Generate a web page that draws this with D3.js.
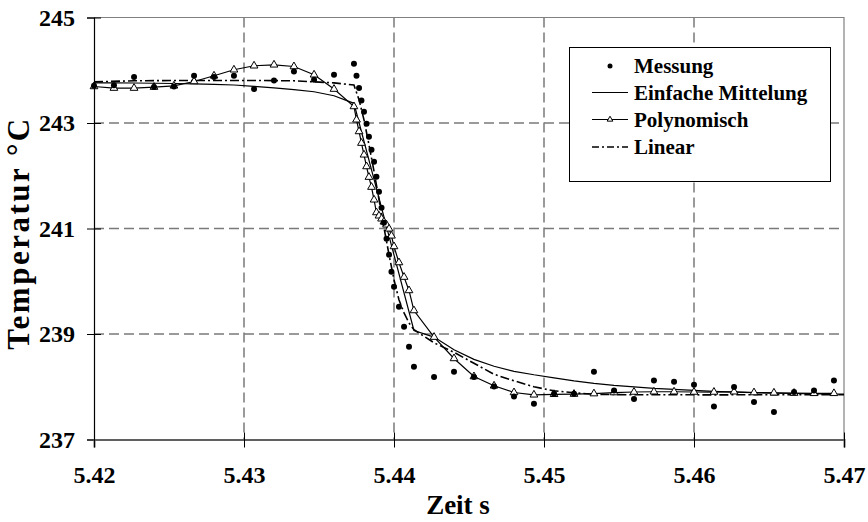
<!DOCTYPE html>
<html><head><meta charset="utf-8">
<script src="https://cdn.jsdelivr.net/npm/d3@7"></script>
<style>body{margin:0;background:#fff}</style>
</head><body>
<svg id="c" width="868" height="522"></svg>
<script>
// ---- data ----
const xTicks = [5.42, 5.43, 5.44, 5.45, 5.46, 5.47];
const yTicks = [237, 239, 241, 243, 245];
const seriesNames = ["Messung", "Einfache Mittelung", "Polynomisch", "Linear"];

const messZeit = [5.42000,5.42133,5.42267,5.42400,5.42533,5.42667,5.42800,5.42933,5.43067,5.43200,5.43333,5.43467,5.43600,
  5.43733,5.43750,5.43767,5.43783,5.43800,5.43817,5.43833,5.43850,5.43867,5.43883,5.43900,5.43917,5.43933,5.43950,5.43967,5.43983,5.44000,
  5.44033,5.44067,5.44100,5.44133,
  5.44267,5.44400,5.44533,5.44667,5.44800,5.44933,5.45067,5.45200,5.45333,5.45467,5.45600,5.45733,5.45867,5.46000,5.46133,5.46267,5.46400,5.46533,5.46667,5.46800,5.46933];
const messTemp = [243.705,243.718,243.870,243.681,243.692,243.895,243.870,243.895,243.643,243.806,243.976,243.819,243.914,
  244.122,243.894,243.662,243.427,243.212,242.985,242.738,242.492,242.264,241.980,241.696,241.392,241.108,240.805,240.501,240.179,239.895,
  239.515,239.136,238.757,238.378,
  238.183,238.283,238.183,238.005,237.815,237.677,237.866,237.866,238.283,237.929,237.766,238.118,238.094,238.037,237.626,237.993,237.709,237.519,237.899,237.929,238.118];

const polyZeit = messZeit;
const polyTemp = [243.692,243.662,243.662,243.681,243.705,243.787,243.895,244.009,244.085,244.103,244.071,243.914,243.643,
  243.313,243.061,242.839,242.619,242.397,242.175,241.974,241.785,241.544,241.303,241.241,241.184,241.127,241.070,240.994,240.861,240.659,
  240.355,240.079,239.825,239.445,
  238.941,238.536,238.194,238.018,237.891,237.847,237.857,237.861,237.870,237.890,237.900,237.905,237.905,237.900,237.900,237.905,237.890,237.885,237.880,237.875,237.875];

const mittZeit = [5.42000,5.42133,5.42267,5.42400,5.42533,5.42667,5.42800,5.42933,5.43067,5.43200,5.43333,5.43467,5.43600,5.43733,
  5.44133,5.44267,5.44400,5.44533,5.44667,5.44800,5.44933,5.45067,5.45200,5.45333,5.45467,5.45600,5.45733,5.45867,5.46000,5.46133,5.46267,5.46400,5.46533,5.46667,5.46800,5.46933,5.47000];
const mittTemp = [243.762,243.762,243.758,243.754,243.749,243.743,243.734,243.720,243.696,243.667,243.633,243.592,243.516,243.373,
  239.066,238.941,238.701,238.520,238.388,238.293,238.227,238.170,238.113,238.065,238.027,237.999,237.971,237.952,237.933,237.914,237.899,237.889,237.880,237.872,237.866,237.863,237.861];

const linZeit = [5.42000,5.42267,5.42533,5.42800,5.43067,5.43333,5.43600,5.43733,5.43767,5.43800,5.43833,5.43867,5.43900,5.43933,5.43967,5.44000,
  5.44033,5.44067,5.44100,5.44133,5.44267,5.44400,5.44533,5.44667,5.44800,5.44933,5.45067,5.45200,5.45333,5.45600,5.45867,5.46133,5.46400,5.46667,5.46933,5.47000];
const linTemp = [243.780,243.800,243.805,243.806,243.806,243.800,243.760,243.720,243.440,243.060,242.590,242.080,241.550,241.020,240.500,240.030,
  239.650,239.400,239.210,239.080,238.833,238.653,238.445,238.236,238.113,237.999,237.923,237.885,237.857,237.847,237.850,237.845,237.850,237.848,237.847,237.847];

// ---- chart ----
const svg = d3.select("#c");
const x = d3.scaleLinear().domain([5.42, 5.47]).range([94, 844]);
const y = d3.scaleLinear().domain([237, 245]).range([439.5, 17.5]);
const font = "'Liberation Serif', 'Times New Roman', serif";

// grid
svg.append("g").selectAll("line").data(xTicks.slice(1, -1)).join("line")
  .attr("x1", d => x(d)).attr("x2", d => x(d)).attr("y1", y(245)).attr("y2", y(237))
  .attr("stroke", "#7a7a7a").attr("stroke-width", 1.5).attr("stroke-dasharray", "10,5");
svg.append("g").selectAll("line").data(yTicks.slice(1, -1)).join("line")
  .attr("y1", d => y(d)).attr("y2", d => y(d)).attr("x1", x(5.42)).attr("x2", x(5.47))
  .attr("stroke", "#7a7a7a").attr("stroke-width", 1.5).attr("stroke-dasharray", "10,5");

// frame top/right
svg.append("path").attr("d", `M${x(5.42)},${y(245)}H${x(5.47)}V${y(237)}`)
  .attr("fill", "none").attr("stroke", "#808080").attr("stroke-width", 1.2);

// lines
const line = d3.line().x(d => x(d[0])).y(d => y(d[1]));
const zip = (a, b) => a.map((v, i) => [v, b[i]]);
svg.append("path").datum(zip(mittZeit, mittTemp)).attr("d", line)
  .attr("fill", "none").attr("stroke", "#000").attr("stroke-width", 1.2);
svg.append("path").datum(zip(linZeit, linTemp)).attr("d", line)
  .attr("fill", "none").attr("stroke", "#000").attr("stroke-width", 1.6).attr("stroke-dasharray", "9,3,2,3");
svg.append("path").datum(zip(polyZeit, polyTemp)).attr("d", line)
  .attr("fill", "none").attr("stroke", "#000").attr("stroke-width", 1.2);

// triangles
const tri = d3.symbol().type(d3.symbolTriangle).size(26);
svg.append("g").selectAll("path").data(zip(polyZeit, polyTemp)).join("path")
  .attr("d", tri).attr("transform", d => `translate(${x(d[0])},${y(d[1])})`)
  .attr("fill", "#fff").attr("stroke", "#000").attr("stroke-width", 1);

// dots
svg.append("g").selectAll("circle").data(zip(messZeit, messTemp)).join("circle")
  .attr("cx", d => x(d[0])).attr("cy", d => y(d[1])).attr("r", 3).attr("fill", "#000");

// axes
const gy = svg.append("g").attr("transform", `translate(${x(5.42)},0)`)
  .call(d3.axisLeft(y).tickValues(yTicks).tickSize(7).tickPadding(12).tickFormat(d3.format("d")));
gy.select(".domain").attr("stroke", "#000").attr("stroke-width", 1.2);
gy.selectAll(".tick line").attr("x1", 7).attr("x2", -7).attr("stroke", "#000");
gy.selectAll("text").attr("font-family", font).attr("font-weight", "bold").attr("font-size", 24).attr("fill", "#000");

const gx = svg.append("g").attr("transform", `translate(0,${y(237)})`)
  .call(d3.axisBottom(x).tickValues(xTicks).tickSize(8).tickPadding(18).tickFormat(d3.format(".2f")));
gx.select(".domain").attr("stroke", "#606060").attr("stroke-width", 2);
gx.selectAll(".tick line").attr("y1", -7).attr("y2", 8).attr("stroke", "#000");
gx.selectAll("text").attr("font-family", font).attr("font-weight", "bold").attr("font-size", 24).attr("fill", "#000");

// titles
svg.append("text").attr("x", 458).attr("y", 514).attr("text-anchor", "middle")
  .attr("font-family", font).attr("font-weight", "bold").attr("font-size", 27).text("Zeit s");
svg.append("text").attr("transform", "translate(29,233) rotate(-90)").attr("text-anchor", "middle")
  .attr("font-family", font).attr("font-weight", "bold").attr("font-size", 31).attr("letter-spacing", 2.5).text("Temperatur °C");

// legend
const lg = svg.append("g");
lg.append("rect").attr("x", 569.5).attr("y", 47.5).attr("width", 261).attr("height", 134)
  .attr("fill", "#fff").attr("stroke", "#000").attr("stroke-width", 1);
const rowsY = [66, 92.5, 119.5, 147];
lg.append("circle").attr("cx", 610).attr("cy", rowsY[0]).attr("r", 2.5).attr("fill", "#000");
lg.append("line").attr("x1", 592).attr("x2", 628).attr("y1", rowsY[1]).attr("y2", rowsY[1]).attr("stroke", "#000").attr("stroke-width", 1.2);
lg.append("line").attr("x1", 592).attr("x2", 628).attr("y1", rowsY[2]).attr("y2", rowsY[2]).attr("stroke", "#000").attr("stroke-width", 1.2);
lg.append("path").attr("d", d3.symbol().type(d3.symbolTriangle).size(14)).attr("transform", `translate(610,${rowsY[2]})`)
  .attr("fill", "#fff").attr("stroke", "#000").attr("stroke-width", 1);
lg.append("line").attr("x1", 592).attr("x2", 628).attr("y1", rowsY[3]).attr("y2", rowsY[3]).attr("stroke", "#000").attr("stroke-width", 1.6).attr("stroke-dasharray", "7,3,2,3");
lg.selectAll("text.l").data(seriesNames).join("text").attr("class", "l")
  .attr("x", 634).attr("y", (d, i) => rowsY[i] + 7)
  .attr("font-family", font).attr("font-weight", "bold").attr("font-size", 21).text(d => d);
</script>
</body></html>
